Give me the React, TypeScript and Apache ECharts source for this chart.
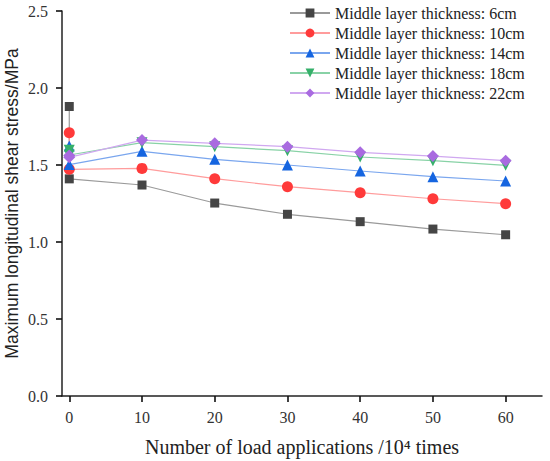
import React, { useEffect, useRef } from "react";
import * as echarts from "echarts";

const xValues = [0, 0, 10, 20, 30, 40, 50, 60];
const seriesNames = [
  "Middle layer thickness: 6cm",
  "Middle layer thickness: 10cm",
  "Middle layer thickness: 14cm",
  "Middle layer thickness: 18cm",
  "Middle layer thickness: 22cm",
];
const s6 = [1.88, 1.41, 1.37, 1.253, 1.18, 1.132, 1.084, 1.047];
const s10 = [1.71, 1.472, 1.478, 1.411, 1.359, 1.32, 1.281, 1.249];
const s14 = [1.623, 1.503, 1.589, 1.537, 1.5, 1.461, 1.424, 1.396];
const s18 = [1.595, 1.565, 1.645, 1.619, 1.593, 1.552, 1.528, 1.498];
const s22 = [1.562, 1.55, 1.662, 1.641, 1.619, 1.582, 1.558, 1.528];
const xTicks = [0, 10, 20, 30, 40, 50, 60];

const markerColors = ["#454545", "#ff3a3a", "#1565e0", "#35b06a", "#a96be0"];
const lineColors = ["#9a9a9a", "#ff9c9c", "#7aa6ee", "#88d2a6", "#d0a8f0"];
const symbols = ["rect", "circle", "triangle", "path://M0,0 L10,0 L5,9 Z", "diamond"];
const symbolSizes = [9, 11, 11, 11, 12];

export default function App() {
  const ref = useRef<HTMLDivElement>(null);
  useEffect(() => {
    document.body.style.margin = "0";
    const chart = echarts.init(ref.current!, null, { renderer: "svg" });
    const all = [s6, s10, s14, s18, s22];
    const serif = "'Liberation Serif', 'Times New Roman', serif";
    const sans = "'Liberation Sans', Arial, sans-serif";
    chart.setOption({
      animation: false,
      backgroundColor: "#ffffff",
      textStyle: { fontFamily: serif },
      legend: {
        left: 284,
        top: 0,
        orient: "vertical",
        itemWidth: 40,
        itemHeight: 11,
        itemGap: 4,
        textStyle: { fontFamily: serif, fontSize: 16, color: "#222" },
        data: seriesNames,
      },
      grid: { left: 62, right: 8, top: 11, bottom: 65, containLabel: false, outerBoundsMode: "none" },
      xAxis: {
        type: "value",
        min: -1,
        max: 65,
        name: "Number of load applications /10⁴ times",
        nameLocation: "middle",
        nameGap: 41,
        nameMoveOverlap: false,
        nameTextStyle: { fontFamily: serif, fontSize: 20, color: "#222" },
        axisLine: { show: true, onZero: false, lineStyle: { color: "#222", width: 1.5 } },
        axisTick: { show: true, inside: false, length: 6, customValues: xTicks, lineStyle: { color: "#111", width: 1.6 } },
        axisLabel: { customValues: xTicks, fontFamily: serif, fontSize: 16, color: "#333", margin: 13 },
        splitLine: { show: false },
      },
      yAxis: {
        type: "value",
        min: 0,
        max: 2.5,
        interval: 0.5,
        name: "Maximum longitudinal shear stress/MPa",
        nameLocation: "middle",
        nameGap: 41,
        nameMoveOverlap: false,
        nameTextStyle: { fontFamily: sans, fontSize: 17.5, color: "#222" },
        axisLine: { show: true, onZero: false, lineStyle: { color: "#222", width: 1.5 } },
        axisTick: { show: true, inside: false, length: 6, lineStyle: { color: "#111", width: 1.6 } },
        axisLabel: {
          fontFamily: serif,
          fontSize: 16,
          color: "#333",
          margin: 14,
          formatter: (v: number) => v.toFixed(1),
        },
        splitLine: { show: false },
      },
      series: all.map((vals, i) => ({
        name: seriesNames[i],
        type: "line",
        data: xValues.map((x, j) => [x, vals[j]]),
        symbol: symbols[i],
        symbolSize: symbolSizes[i],
        showAllSymbol: true,
        itemStyle: { color: markerColors[i] },
        lineStyle: { color: lineColors[i], width: 1.2 },
        z: 2 + i,
      })),
    });
    return () => chart.dispose();
  }, []);
  return <div ref={ref} style={{ width: 550, height: 461 }} />;
}
